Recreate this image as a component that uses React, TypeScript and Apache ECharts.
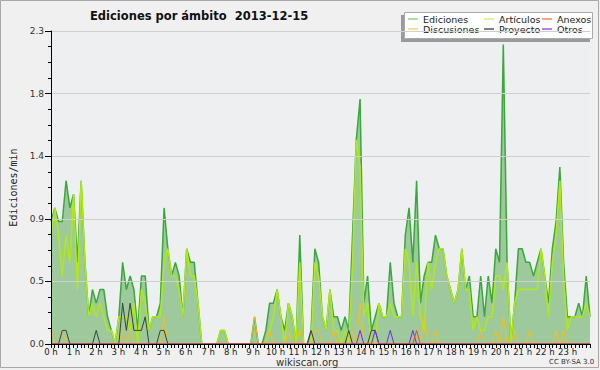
import React, { useEffect, useRef } from "react";
import * as echarts from "echarts";

// 10-minute slots of 2013-12-15 (144 slots)
const TIME_SLOTS: string[] = Array.from({ length: 144 }, (_, i) =>
  `${String(Math.floor(i / 6)).padStart(2, "0")}:${i % 6}0`
);

const HOUR_MAX = 24;
const Y_MAX = 2.3;
const Y_STEP = 0.46;

const EDICIONES = [
  0.9, 1.0, 0.9, 0.9, 1.2, 1.0, 1.1, 0.6, 1.2, 0.6, 0.2, 0.4,
  0.3, 0.4, 0.4, 0.2, 0.1, 0.0, 0.2, 0.6, 0.4, 0.5, 0.4, 0.1,
  0.5, 0.5, 0.1, 0.2, 0.2, 0.3, 1.0, 0.7, 0.5, 0.6, 0.5, 0.2,
  0.7, 0.6, 0.6, 0.3, 0, 0, 0, 0, 0, 0.1, 0.1, 0,
  0, 0, 0, 0, 0, 0, 0.2, 0, 0, 0.1, 0.3, 0.3,
  0.4, 0.2, 0.1, 0.3, 0.2, 0, 0.8, 0, 0, 0.1, 0.7, 0.6,
  0.2, 0.1, 0.4, 0.2, 0.2, 0.1, 0.2, 0.1, 0.8, 1.5, 1.8, 0.3,
  0.5, 0.1, 0.2, 0.3, 0.2, 0.2, 0.6, 0.3, 0.2, 0.2, 0.8, 1.0,
  0.6, 1.2, 0.3, 0.5, 0.6, 0.6, 0.8, 0.7, 0.7, 0.5, 0.4, 0.3,
  0.4, 0.7, 0.4, 0.5, 0.2, 0.2, 0.5, 0.2, 0.5, 0.3, 0.7, 0.6,
  2.2, 0.6, 0, 0.3, 0.7, 0.7, 0.6, 0.6, 0.5, 0.6, 0.7, 0.5,
  0.3, 0.7, 0.9, 1.3, 0.6, 0.2, 0.2, 0.2, 0.3, 0.2, 0.5, 0.2,
];

const ARTICULOS = [
  0.8, 1.0, 0.8, 0.5, 0.8, 0.6, 1.1, 0.4, 1.2, 0.6, 0.2, 0.3,
  0.2, 0.3, 0.2, 0.1, 0.1, 0, 0.2, 0.2, 0.2, 0.1, 0.3, 0,
  0.4, 0.3, 0.1, 0.2, 0.2, 0.2, 0.6, 0.7, 0.5, 0.5, 0.4, 0.2,
  0.7, 0.5, 0.5, 0.3, 0, 0, 0, 0, 0, 0.1, 0.1, 0,
  0, 0, 0, 0, 0, 0, 0, 0, 0, 0, 0.1, 0.2,
  0.4, 0.2, 0, 0.3, 0.2, 0, 0.6, 0, 0, 0, 0.6, 0.5,
  0.2, 0.1, 0.4, 0.1, 0.1, 0, 0.1, 0, 0.6, 1.5, 1.3, 0.2,
  0.3, 0, 0, 0.3, 0.2, 0.2, 0.3, 0.2, 0.2, 0.2, 0.7, 0.6,
  0.2, 0.6, 0.2, 0.1, 0.6, 0.4, 0.6, 0.7, 0.7, 0.5, 0.4, 0.3,
  0.4, 0.7, 0.4, 0.4, 0.1, 0.2, 0.1, 0.1, 0.2, 0.2, 0.5, 0.5,
  0.4, 0.6, 0, 0.3, 0.4, 0.4, 0.4, 0.4, 0.4, 0.4, 0.7, 0.5,
  0.2, 0.6, 0.8, 1.2, 0.5, 0.1, 0.2, 0.2, 0.2, 0.2, 0.3, 0.2,
];

const DISCUSIONES = [
  0.1, 0, 0, 0.1, 0, 0, 0, 0, 0, 0, 0, 0,
  0, 0, 0, 0, 0, 0, 0, 0.1, 0, 0.1, 0, 0,
  0, 0, 0, 0, 0, 0, 0.2, 0, 0, 0, 0, 0,
  0, 0, 0, 0, 0, 0, 0, 0, 0, 0, 0, 0,
  0, 0, 0, 0, 0, 0, 0.2, 0, 0, 0, 0.1, 0,
  0, 0, 0, 0.1, 0, 0, 0.1, 0, 0, 0, 0.1, 0.1,
  0, 0, 0, 0.1, 0, 0, 0, 0, 0.1, 0, 0.3, 0,
  0, 0, 0, 0, 0, 0, 0, 0, 0, 0, 0, 0,
  0, 0, 0, 0.2, 0, 0, 0.1, 0, 0, 0, 0, 0,
  0, 0, 0, 0, 0, 0, 0.1, 0, 0, 0, 0.1, 0,
  0.2, 0, 0, 0.1, 0, 0, 0, 0.1, 0, 0, 0, 0,
  0, 0, 0.1, 0, 0.1, 0, 0, 0, 0, 0, 0, 0,
];

const PROYECTO = [
  0, 0, 0, 0.1, 0.1, 0, 0, 0, 0, 0, 0, 0,
  0.1, 0, 0, 0, 0, 0, 0, 0.3, 0.1, 0.3, 0.1, 0.1,
  0.1, 0.2, 0, 0, 0, 0.1, 0.1, 0, 0, 0, 0, 0,
  0, 0, 0, 0, 0, 0, 0, 0, 0, 0, 0, 0,
  0, 0, 0, 0, 0, 0, 0, 0, 0, 0, 0, 0,
  0, 0, 0, 0, 0, 0, 0, 0, 0, 0.1, 0, 0,
  0, 0, 0, 0, 0, 0, 0, 0.1, 0, 0, 0, 0,
  0, 0.1, 0.1, 0, 0, 0, 0, 0, 0, 0, 0, 0,
  0, 0, 0, 0, 0, 0, 0, 0, 0, 0, 0, 0,
  0, 0, 0, 0, 0, 0, 0, 0, 0, 0, 0, 0,
  0, 0, 0, 0, 0, 0, 0, 0, 0, 0, 0, 0,
  0, 0, 0, 0, 0, 0, 0, 0, 0, 0, 0, 0,
];

const OTROS = [
  0, 0, 0, 0, 0, 0, 0, 0, 0, 0, 0, 0,
  0, 0, 0, 0, 0, 0, 0, 0, 0, 0, 0, 0,
  0, 0, 0, 0, 0, 0, 0, 0, 0, 0, 0, 0,
  0, 0, 0, 0, 0, 0, 0, 0, 0, 0, 0, 0,
  0, 0, 0, 0, 0, 0, 0, 0, 0, 0, 0, 0,
  0, 0, 0, 0, 0, 0, 0, 0, 0, 0, 0, 0,
  0, 0, 0, 0, 0, 0, 0, 0, 0, 0, 0.1, 0,
  0, 0, 0.1, 0, 0, 0, 0.1, 0, 0, 0, 0, 0,
  0.1, 0, 0, 0, 0, 0, 0, 0, 0, 0, 0, 0,
  0, 0, 0, 0, 0, 0, 0, 0, 0, 0, 0, 0,
  0, 0, 0, 0, 0, 0, 0, 0, 0, 0, 0, 0,
  0, 0, 0, 0, 0, 0, 0, 0, 0, 0, 0, 0,
];

const ANEXOS = [
  0, 0, 0, 0, 0, 0, 0, 0, 0, 0, 0, 0,
  0, 0, 0, 0, 0, 0, 0, 0, 0, 0, 0, 0,
  0, 0, 0, 0, 0, 0, 0, 0, 0, 0, 0, 0,
  0, 0, 0, 0, 0, 0, 0, 0, 0, 0, 0, 0,
  0, 0, 0, 0, 0, 0, 0, 0, 0, 0, 0, 0,
  0, 0, 0, 0, 0, 0, 0, 0, 0, 0, 0, 0,
  0, 0, 0, 0, 0, 0, 0, 0, 0, 0, 0, 0,
  0, 0, 0, 0, 0, 0, 0, 0, 0, 0, 0, 0,
  0, 0.1, 0, 0, 0, 0, 0, 0, 0, 0, 0, 0,
  0, 0, 0, 0, 0, 0, 0, 0, 0, 0, 0, 0,
  0, 0, 0, 0, 0, 0, 0, 0, 0, 0, 0, 0,
  0, 0, 0, 0, 0, 0, 0, 0, 0, 0, 0, 0,
];

const TITLE = "Ediciones por ámbito  2013-12-15";
const FONT = "DejaVu Sans";
const NARROW = "'DejaVu Sans Condensed', 'Liberation Sans', sans-serif";

export default function App() {
  const ref = useRef<HTMLDivElement>(null);

  useEffect(() => {
    if (!ref.current) return;
    const chart = echarts.init(ref.current, undefined, { renderer: "svg" });

    const line = (
      name: string,
      data: number[],
      color: string,
      legendColor: string,
      width: number,
      extra: any = {}
    ) => ({
      name,
      type: "line",
      xAxisIndex: 1,
      data,
      symbol: "none",
      showSymbol: false,
      lineStyle: { color, width },
      itemStyle: { color: legendColor },
      emphasis: { disabled: true },
      ...extra,
    });

    const legendBase = {
      orient: "vertical",
      top: 14,
      icon: "rect",
      itemWidth: 10,
      itemHeight: 1.5,
      itemGap: 0,
      padding: 0,
      selectedMode: false,
      z: 6,
      textStyle: { fontFamily: FONT, fontSize: 9.5, color: "#222", lineHeight: 10, padding: [0, 0, 0, 0] },
    };

    chart.setOption({
      animation: false,
      backgroundColor: "#f0f0f0",
      title: {
        text: TITLE,
        left: 85,
        top: 5,
        textStyle: { fontFamily: FONT, fontSize: 11.5, fontWeight: "bold", color: "#111" },
      },
      legend: [
        { ...legendBase, left: 408, data: ["Ediciones", "Discusiones"] },
        { ...legendBase, left: 484, data: ["Artículos", "Proyecto"] },
        { ...legendBase, left: 542, data: ["Anexos", "Otros"] },
      ],
      grid: {
        left: 46,
        top: 31,
        width: 544,
        height: 313,
        show: true,
        backgroundColor: "#eeeff1",
        borderWidth: 0,
      },
      xAxis: [
        {
          type: "value",
          min: 0,
          max: HOUR_MAX,
          interval: 1,
          z: 10,
          axisLine: { show: true, lineStyle: { color: "#000", width: 1 } },
          axisTick: { show: true, length: 4, lineStyle: { color: "#000" } },
          minorTick: { show: true, splitNumber: 6, length: 4, lineStyle: { color: "#000" } },
          splitLine: { show: false },
          axisLabel: {
            margin: 2,
            fontFamily: NARROW,
            fontSize: 9.5,
            color: "#222",
            formatter: (v: number) => (v >= HOUR_MAX ? "" : `${v} h`),
          },
        },
        {
          type: "category",
          data: TIME_SLOTS,
          boundaryGap: false,
          show: false,
        },
      ],
      yAxis: {
        type: "value",
        min: 0,
        max: Y_MAX,
        interval: Y_STEP,
        z: 10,
        name: "Ediciones/min",
        nameLocation: "middle",
        nameRotate: 90,
        nameGap: 33,
        nameTextStyle: { fontFamily: "DejaVu Sans Mono", fontSize: 10, color: "#222" },
        axisLine: { show: true, lineStyle: { color: "#000", width: 1 } },
        axisTick: { show: true, length: 6, lineStyle: { color: "#000" } },
        minorTick: { show: true, splitNumber: 4, length: 3, lineStyle: { color: "#000" } },
        splitLine: { show: true, lineStyle: { color: "#cfcfcf", width: 1 } },
        axisLabel: {
          margin: 7,
          fontFamily: FONT,
          fontSize: 9,
          color: "#333",
          formatter: (v: number) => v.toFixed(1),
        },
      },
      graphic: [
        {
          type: "rect",
          z: -1,
          shape: { x: 0.5, y: 0.5, width: 598, height: 367 },
          style: { fill: "none", stroke: "#a8a8a8", lineWidth: 1 },
        },
        {
          type: "rect",
          z: 4,
          shape: { x: 401, y: 15, width: 189, height: 27 },
          style: { fill: "#9a9a9a" },
        },
        {
          type: "rect",
          z: 5,
          shape: { x: 404.5, y: 12.5, width: 188, height: 26 },
          style: { fill: "#ffffff", stroke: "#aaaaaa", lineWidth: 1 },
        },
        {
          type: "text",
          left: 276,
          top: 357,
          style: { text: "wikiscan.org", font: `10px ${FONT}`, fill: "#333" },
        },
        {
          type: "text",
          left: 549,
          top: 358,
          style: { text: "CC BY-SA 3.0", font: `7px ${FONT}`, fill: "#333" },
        },
      ],
      series: [
        line("Ediciones", EDICIONES, "#3aa83a", "#8fd18f", 1.5, {
          areaStyle: { color: "#9dc99d", opacity: 1 },
          z: 2,
        }),
        line("Artículos", ARTICULOS, "#b0ea14", "#d4f07c", 1.5, { z: 3 }),
        line("Discusiones", DISCUSIONES, "#f0c020", "#f6d56e", 1, { z: 4 }),
        line("Proyecto", PROYECTO, "#404040", "#555555", 1, { z: 4 }),
        line("Otros", OTROS, "#7b28ee", "#9a55ee", 1, { z: 4 }),
        line("Anexos", ANEXOS, "#ee4a1c", "#f08a5c", 1, { z: 4 }),
      ],
    });

    return () => chart.dispose();
  }, []);

  return (
    <div
      ref={ref}
      style={{ position: "absolute", left: 0, top: 0, width: 600, height: 370 }}
    />
  );
}
